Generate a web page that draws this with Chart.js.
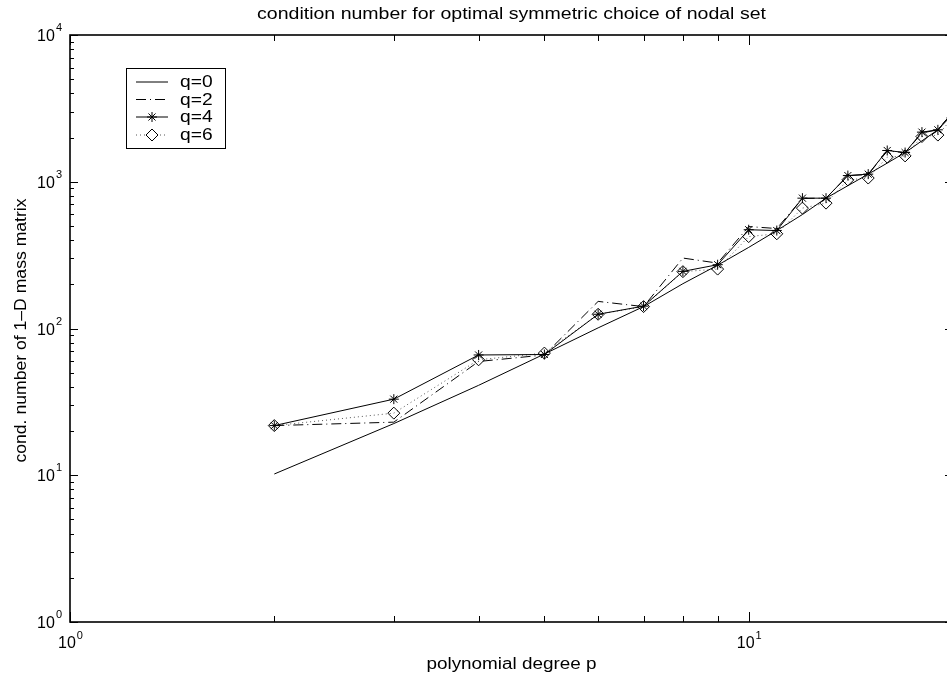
<!DOCTYPE html>
<html>
<head>
<meta charset="utf-8">
<script src="https://cdn.jsdelivr.net/npm/chart.js@4.4.0/dist/chart.umd.min.js"></script>
<style>
html, body { margin: 0; padding: 0; background: #fff; overflow: hidden; }
#caixa { width: 960px; height: 676px; }
</style>
</head>
<body>
<div id="caixa"><canvas id="grafico" width="960" height="676"></canvas></div>
<script>
// dados (grau p x numero de condicao)
const graus = [2, 3, 4, 5, 6, 7, 8, 9, 10, 11, 12, 13, 14, 15, 16, 17, 18, 19, 20]
const q0 = [10.2, 22.5, 41, 67, 101, 141, 202, 270, 357, 465, 598, 773, 940, 1127, 1340, 1581, 1900, 2259, 2900]
const q2 = [21.8, 23, 59.6, 66, 153, 141, 302, 279, 495, 480, 770, 773, 1100, 1120, 1620, 1580, 2150, 2260, 3000]
const q4 = [21.8, 33, 66, 66.5, 125, 142, 245, 272, 471, 465, 773, 773, 1102, 1127, 1633, 1581, 2178, 2259, 3000]
const q6 = [21.8, 26.5, 61.2, 68, 125, 141, 244, 254, 423, 442, 661, 715, 1030, 1060, 1472, 1500, 2033, 2080, 2750]
const legendas = ['q=0', 'q=2', 'q=4', 'q=6']

const xMaior = [1, 10]
const xMenor = [2, 3, 4, 5, 6, 7, 8, 9, 20]
const yMaior = [1, 10, 100, 1000, 10000]
const expX = ['0', '1']
const expY = ['0', '1', '2', '3', '4']

const titulo = 'condition number for optimal symmetric choice of nodal set'
const tituloX = 'polynomial degree p'
const tituloY = 'cond. number of 1\u2013D mass matrix'

const fonte = '"Liberation Sans", Arial, sans-serif'

const pontos = (vals) => graus.map((p, i) => ({ x: p, y: vals[i] }))

const estilos = [
    { borderDash: [], pointStyle: false, borderColor: '#000' },
    { borderDash: [10, 4, 1, 4], pointStyle: false, borderColor: '#000' },
    { borderDash: [], pointStyle: 'star', borderColor: '#000' },
    { borderDash: [1, 3], pointStyle: 'rectRot', borderColor: '#555' }
]

// texto com esticamento horizontal (fonte do matlab e mais larga)
function texto(ctx, s, x, y, tam, esc, ang) {
    ctx.save()
    ctx.translate(x, y)
    if (ang) ctx.rotate(ang)
    ctx.scale(esc, 1)
    ctx.font = tam + 'px ' + fonte
    ctx.fillText(s, 0, 0)
    ctx.restore()
}

function dez(ctx, exp, x, y, alinha, alturaExp) {
    ctx.font = '16px ' + fonte
    const wb = ctx.measureText('10').width
    ctx.font = '11px ' + fonte
    const we = ctx.measureText(exp).width
    let x0 = alinha === 'right' ? x - wb - we - 1 : x - (wb + we) / 2
    ctx.textAlign = 'left'
    ctx.textBaseline = 'alphabetic'
    ctx.font = '16px ' + fonte
    ctx.fillText('10', x0, y)
    ctx.font = '11px ' + fonte
    ctx.fillText(exp, x0 + wb + 1, y - alturaExp)
}

const eixosMatlab = {
    id: 'eixosMatlab',
    afterDatasetsDraw(chart) {
        const ctx = chart.ctx
        const a = chart.chartArea
        const sx = chart.scales.x
        const sy = chart.scales.y
        ctx.save()
        ctx.strokeStyle = '#000'
        ctx.fillStyle = '#000'

        // ticks x (em cima e embaixo, para dentro)
        ctx.lineWidth = 1
        ctx.beginPath()
        xMenor.forEach(v => {
            const px = Math.round(sx.getPixelForValue(v)) + 0.5
            ctx.moveTo(px, a.bottom); ctx.lineTo(px, a.bottom - 6)
            ctx.moveTo(px, a.top); ctx.lineTo(px, a.top + 6)
        })
        xMaior.forEach(v => {
            const px = Math.round(sx.getPixelForValue(v)) + 0.5
            ctx.moveTo(px, a.bottom); ctx.lineTo(px, a.bottom - 10)
            ctx.moveTo(px, a.top); ctx.lineTo(px, a.top + 10)
        })
        // ticks y
        yMaior.forEach((v, i) => {
            const py = Math.round(sy.getPixelForValue(v)) + 0.5
            ctx.moveTo(a.left, py); ctx.lineTo(a.left + 8, py)
            ctx.moveTo(a.right, py); ctx.lineTo(a.right - 8, py)
            if (i < yMaior.length - 1) {
                for (let k = 2; k <= 9; k++) {
                    const pm = Math.round(sy.getPixelForValue(v * k)) + 0.5
                    ctx.moveTo(a.left, pm); ctx.lineTo(a.left + 4, pm)
                    ctx.moveTo(a.right, pm); ctx.lineTo(a.right - 4, pm)
                }
            }
        })
        ctx.stroke()

        // caixa dos eixos
        ctx.lineWidth = 1.6
        ctx.strokeRect(a.left, a.top, a.right - a.left, a.bottom - a.top)

        // rotulos dos ticks
        yMaior.forEach((v, i) => {
            const py = sy.getPixelForValue(v)
            dez(ctx, expY[i], a.left - 8, py + 6, 'right', 10)
        })
        xMaior.forEach((v, i) => {
            const px = sx.getPixelForValue(v)
            dez(ctx, expX[i], px, a.bottom + 26, 'center', 9)
        })

        // titulos
        ctx.textAlign = 'center'
        ctx.textBaseline = 'middle'
        const cx = (a.left + sx.getPixelForValue(20)) / 2
        texto(ctx, titulo, cx, 15, 16, 1.22)
        texto(ctx, tituloX, cx, 665, 16, 1.18)
        texto(ctx, tituloY, 22, (a.top + a.bottom) / 2 + 2, 16, 1.1, -Math.PI / 2)

        // legenda
        ctx.fillStyle = '#fff'
        ctx.fillRect(126, 68, 99, 80)
        ctx.lineWidth = 1
        ctx.strokeStyle = '#000'
        ctx.strokeRect(126.5, 68.5, 99, 80)
        const linhas = [82, 99.5, 117, 135]
        legendas.forEach((txt, i) => {
            const y = linhas[i]
            const e = estilos[i]
            ctx.strokeStyle = e.borderColor
            ctx.lineWidth = 1
            ctx.setLineDash(e.borderDash)
            ctx.beginPath()
            ctx.moveTo(136, y); ctx.lineTo(168, y)
            ctx.stroke()
            ctx.setLineDash([])
            if (e.pointStyle) {
                ctx.strokeStyle = '#000'
                ctx.fillStyle = '#fff'
                const raio = e.pointStyle === 'star' ? 5 : 6
                Chart.helpers.drawPoint(ctx, { pointStyle: e.pointStyle, radius: raio, borderWidth: 1, rotation: 0 }, 152, y)
            }
            ctx.fillStyle = '#000'
            ctx.textAlign = 'left'
            ctx.textBaseline = 'middle'
            texto(ctx, txt, 180, y + 1, 16, 1.2)
        })
        ctx.restore()
    }
}

const series = [q0, q2, q4, q6]

new Chart(document.getElementById('grafico'), {
    type: 'line',
    data: {
        datasets: series.map((s, i) => ({
            label: legendas[i],
            data: pontos(s),
            borderColor: estilos[i].borderColor,
            borderDash: estilos[i].borderDash,
            borderWidth: 1,
            pointStyle: estilos[i].pointStyle,
            pointRadius: estilos[i].pointStyle === 'star' ? 5 : 6,
            pointBorderColor: '#000',
            pointBackgroundColor: 'rgba(0,0,0,0)',
            pointBorderWidth: 1,
            tension: 0,
            fill: false
        }))
    },
    options: {
        responsive: false,
        animation: false,
        layout: { padding: { left: 70, top: 35, right: 7, bottom: 54 } },
        scales: {
            x: { type: 'logarithmic', min: 1, max: 20, display: false },
            y: { type: 'logarithmic', min: 1, max: 10000, display: false }
        },
        plugins: {
            legend: { display: false },
            title: { display: false },
            tooltip: { enabled: false }
        }
    },
    plugins: [eixosMatlab]
})
</script>
</body>
</html>
